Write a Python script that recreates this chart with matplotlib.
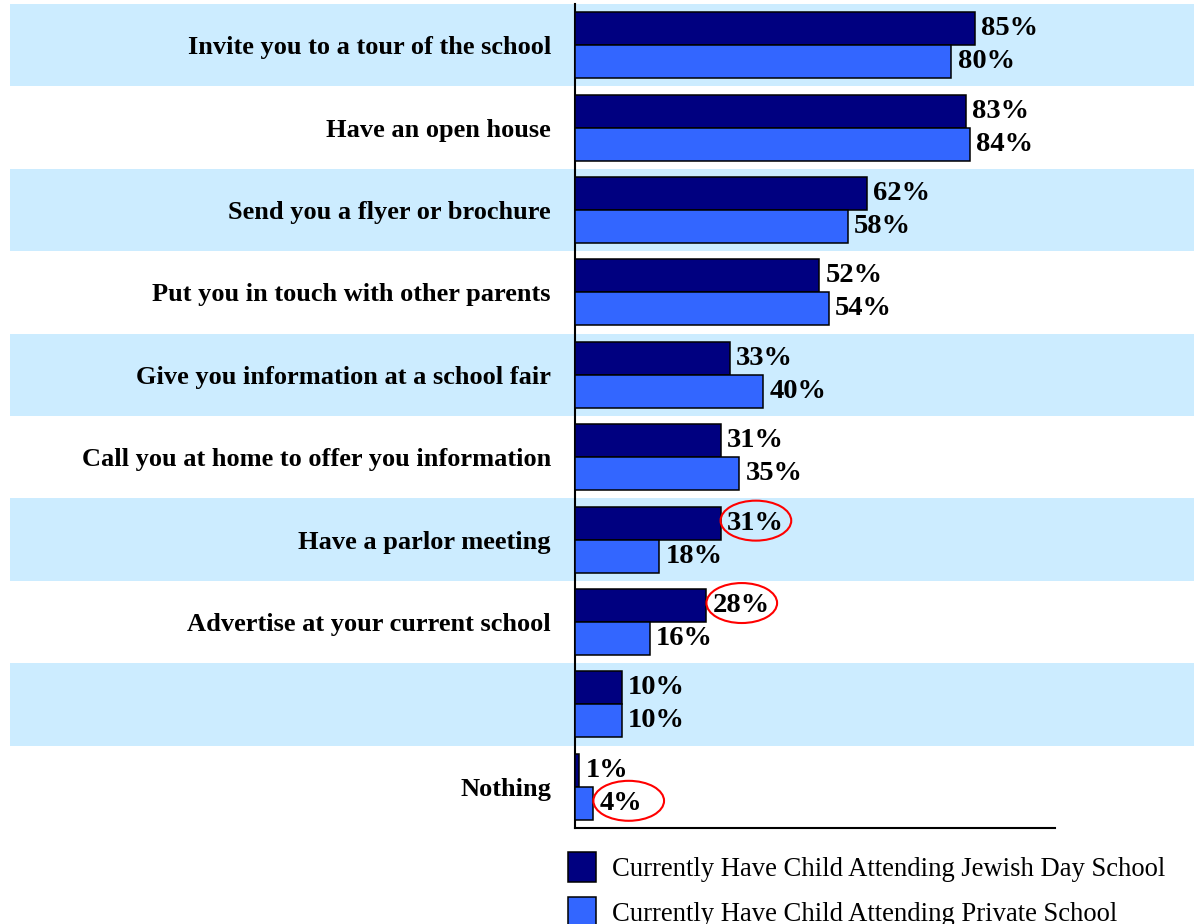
import matplotlib.pyplot as plt
import numpy as np
from matplotlib.patches import Ellipse, Rectangle
from matplotlib.transforms import blended_transform_factory

categories = [
    "Invite you to a tour of the school",
    "Have an open house",
    "Send you a flyer or brochure",
    "Put you in touch with other parents",
    "Give you information at a school fair",
    "Call you at home to offer you information",
    "Have a parlor meeting",
    "Advertise at your current school",
    "",
    "Nothing",
]
jewish_day = [85, 83, 62, 52, 33, 31, 31, 28, 10, 1]
private = [80, 84, 58, 54, 40, 35, 18, 16, 10, 4]
series_names = [
    "Currently Have Child Attending Jewish Day School",
    "Currently Have Child Attending Private School",
]
# (row, series) pairs circled in red
circled = [(6, 0), (7, 0), (9, 1)]

NAVY = "#000080"
BLUE = "#3366FF"
BAND = "#CCECFF"

plt.rcParams["font.family"] = ["Liberation Serif", "DejaVu Serif"]

fig = plt.figure(figsize=(11.94, 9.24), dpi=100)
ax = fig.add_axes([0.4812, 0.1039, 0.4024, 0.8918])

y = np.arange(len(categories))
h = 0.4
series = [jewish_day, private]
colours = [NAVY, BLUE]
offsets = [-h / 2, h / 2]

for vals, col, off, name in zip(series, colours, offsets, series_names):
    bars = ax.barh(y + off, vals, height=h, color=col, edgecolor="black",
                   linewidth=1.1, label=name, zorder=3)
    for b, v in zip(bars, vals):
        ax.annotate(f"{v}%", (b.get_width(), b.get_y() + b.get_height() / 2),
                    xytext=(4.5, 0), textcoords="offset points", va="center",
                    ha="left", fontsize=20.5, fontweight="bold", zorder=4)

# alternating row bands across the whole width
band_tf = blended_transform_factory(fig.transFigure, ax.transData)
for i in range(0, len(categories), 2):
    ax.add_patch(Rectangle((10 / 1194, i - 0.5), 1.0, 1.0, transform=band_tf,
                           facecolor=BAND, edgecolor="none", clip_on=False,
                           zorder=0))

for row, s in circled:
    v = series[s][row]
    ax.add_patch(Ellipse((v + 7.5, row + offsets[s] - 0.03), 15.0, 0.485,
                         fill=False, edgecolor="red", linewidth=1.5,
                         zorder=5, clip_on=False))

ax.set_xlim(0, 102)
ax.set_ylim(len(categories) - 0.5, -0.5)
ax.set_yticks(y)
ax.set_yticklabels(categories, fontsize=19, fontweight="bold")
ax.tick_params(axis="y", length=0, pad=17)
ax.set_xticks([])
ax.patch.set_visible(False)
for side in ["top", "right"]:
    ax.spines[side].set_visible(False)
for side in ["left", "bottom"]:
    ax.spines[side].set_linewidth(1.5)

handles, labels = ax.get_legend_handles_labels()
fig.legend(handles, labels, loc="upper left",
           bbox_to_anchor=(557 / 1194, 1 - 841 / 924), frameon=False,
           fontsize=19.2, handlelength=1.07, handleheight=1.37,
           handletextpad=0.6, labelspacing=0.55, borderaxespad=0)

fig.savefig("out.png", dpi=100)
